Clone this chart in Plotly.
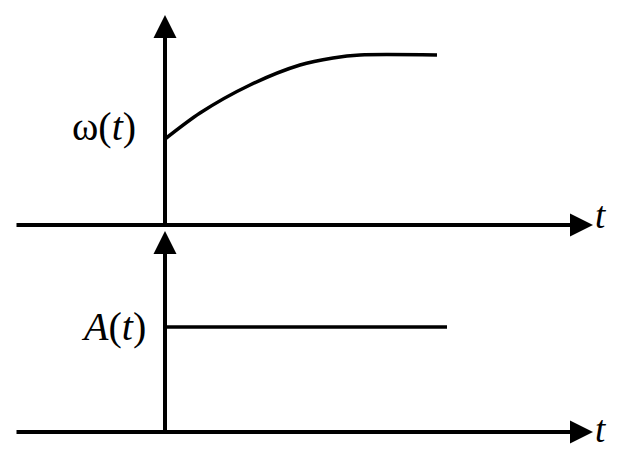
import plotly.graph_objects as go
from plotly.subplots import make_subplots

# angular frequency curve (top) and amplitude (bottom)
t_omega = [0.0, 0.35, 0.85, 1.35, 1.68, 1.95, 2.72]
omega = [0.86, 1.12, 1.40, 1.60, 1.67, 1.70, 1.70]

t_amp = [0.0, 2.82]
amp = [1.05, 1.05]

labels = ["ω(<i>t</i>)", "<i>A</i>(<i>t</i>)"]
axis_label = "<i>t</i>"

fig = make_subplots(rows=2, cols=1, shared_xaxes=True, vertical_spacing=0)

fig.add_trace(go.Scatter(x=t_omega, y=omega, mode="lines",
                         line=dict(color="black", width=3.5, shape="spline", smoothing=0.8)),
              row=1, col=1)
fig.add_trace(go.Scatter(x=t_amp, y=amp, mode="lines",
                         line=dict(color="black", width=3.5)),
              row=2, col=1)

# axes drawn as arrows
x_start, x_tip = -1.5, 4.28
arrows = [
    ("x", "y", x_tip, 0, x_start, 0),
    ("x", "y", 0, 2.10, 0, 0),
    ("x2", "y2", x_tip, 0, x_start, 0),
    ("x2", "y2", 0, 2.01, 0, 0),
]
for xr, yr, x, y, ax, ay in arrows:
    fig.add_annotation(x=x, y=y, ax=ax, ay=ay, xref=xr, yref=yr, axref=xr, ayref=yr,
                       text="", showarrow=True, arrowhead=2, arrowsize=1.15,
                       arrowwidth=4, arrowcolor="black", standoff=0)

font = dict(family="Liberation Serif", size=40, color="black")
tfont = dict(family="Liberation Serif", size=37, color="black")
fig.add_annotation(x=-0.27, y=0.99, xref="x", yref="y", text=labels[0], showarrow=False,
                   xanchor="right", yanchor="middle", font=font)
fig.add_annotation(x=-0.17, y=1.06, xref="x2", yref="y2", text=labels[1], showarrow=False,
                   xanchor="right", yanchor="middle", font=font)
fig.add_annotation(x=4.28, y=0.10, xref="x", yref="y", text=axis_label, showarrow=False,
                   xanchor="left", yanchor="middle", font=tfont)
fig.add_annotation(x=4.28, y=0.03, xref="x2", yref="y2", text=axis_label, showarrow=False,
                   xanchor="left", yanchor="middle", font=tfont)

# ranges offset by the page's 8px body margin
fig.update_xaxes(range=[-1.57, 4.68], visible=False)
fig.update_yaxes(visible=False)
fig.update_yaxes(range=[-0.12, 2.17], row=1, col=1)
fig.update_yaxes(range=[-0.34, 1.95], row=2, col=1)

fig.update_layout(
    width=625, height=458,
    margin=dict(l=0, r=0, t=0, b=0),
    showlegend=False,
    paper_bgcolor="white",
    plot_bgcolor="white",
)

fig.write_html("out.html")
